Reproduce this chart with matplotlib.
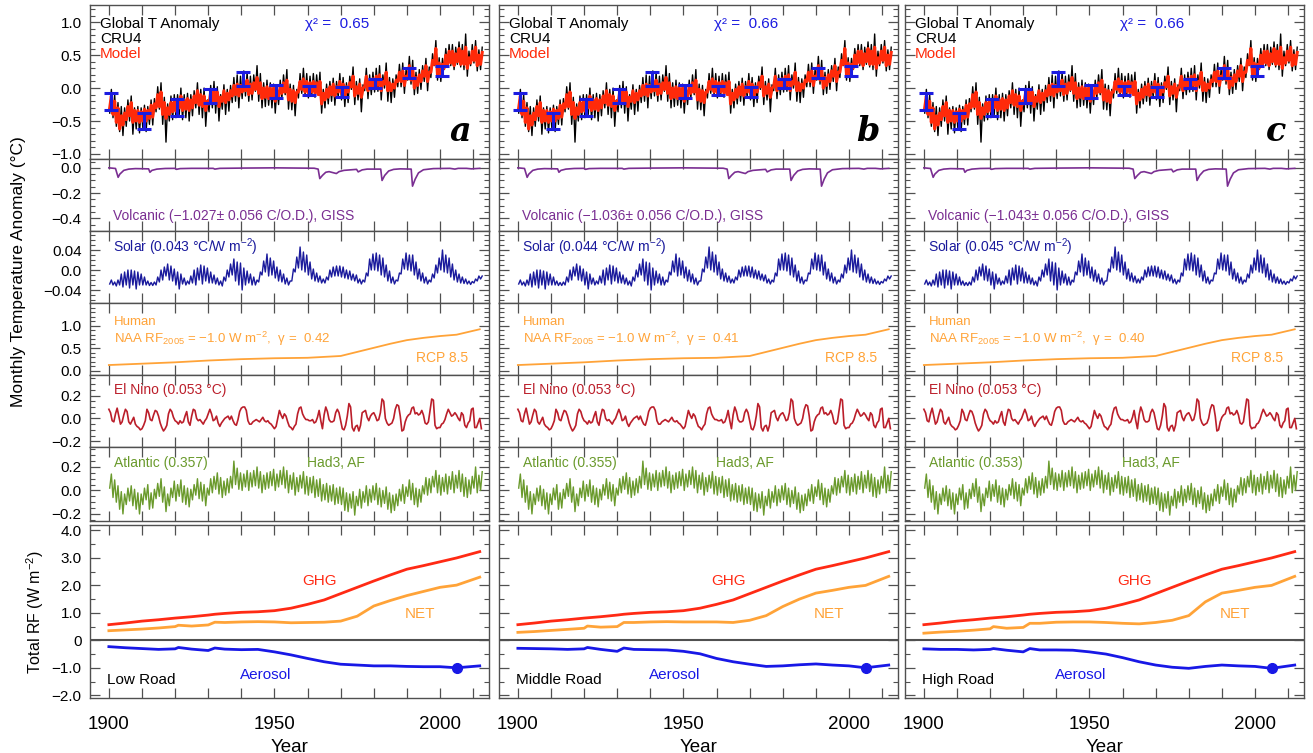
import numpy as np
import matplotlib.pyplot as plt
from matplotlib.ticker import MultipleLocator

plt.rcParams['font.family'] = ['Liberation Sans', 'DejaVu Sans']
plt.rcParams['mathtext.fontset'] = 'custom'
plt.rcParams['mathtext.rm'] = 'Liberation Sans'
plt.rcParams['mathtext.it'] = 'Liberation Sans:italic'
plt.rcParams['mathtext.default'] = 'regular'

# ---------------- data ----------------
years = np.arange(1900, 2013)

# CRU4 monthly temperature: lowest / highest month of each year
obs_lo = [-0.38, -0.45, -0.58, -0.66, -0.72, -0.58, -0.50, -0.70, -0.62, -0.68,
          -0.60, -0.66, -0.55, -0.56, -0.36, -0.32, -0.55, -0.82, -0.50, -0.48,
          -0.45, -0.40, -0.48, -0.45, -0.50, -0.42, -0.30, -0.40, -0.45, -0.58,
          -0.36, -0.30, -0.38, -0.50, -0.32, -0.40, -0.35, -0.22, -0.20, -0.30,
          -0.16, -0.12, -0.20, -0.18, -0.05, -0.20, -0.30, -0.28, -0.26, -0.30,
          -0.38, -0.25, -0.15, -0.10, -0.32, -0.33, -0.42, -0.15, -0.08, -0.12,
          -0.15, -0.12, -0.14, -0.10, -0.38, -0.30, -0.24, -0.20, -0.26, -0.14,
          -0.18, -0.28, -0.22, -0.02, -0.25, -0.18, -0.36, -0.04, -0.16, -0.10,
          -0.06, -0.05, -0.18, 0.00, -0.20, -0.22, -0.14, 0.02, 0.02, -0.08,
          0.12, 0.06, -0.10, -0.08, -0.02, 0.10, -0.04, 0.16, 0.34, 0.12,
          0.10, 0.28, 0.32, 0.34, 0.28, 0.36, 0.32, 0.28, 0.18, 0.34,
          0.38, 0.26, 0.28]
obs_hi = [-0.02, -0.10, -0.22, -0.28, -0.30, -0.18, -0.12, -0.30, -0.28, -0.30,
          -0.26, -0.28, -0.18, -0.16, 0.02, 0.08, -0.14, -0.24, -0.12, -0.10,
          -0.10, 0.00, -0.10, -0.08, -0.10, -0.04, 0.08, -0.02, 0.00, -0.18,
          0.04, 0.10, 0.02, -0.10, 0.05, -0.02, 0.04, 0.16, 0.20, 0.18,
          0.26, 0.24, 0.18, 0.20, 0.34, 0.22, 0.08, 0.12, 0.08, 0.06,
          0.00, 0.12, 0.20, 0.28, 0.06, 0.04, -0.02, 0.22, 0.30, 0.22,
          0.18, 0.22, 0.20, 0.24, -0.02, 0.06, 0.10, 0.15, 0.10, 0.22,
          0.16, 0.08, 0.18, 0.32, 0.10, 0.14, 0.05, 0.30, 0.20, 0.24,
          0.30, 0.34, 0.20, 0.38, 0.16, 0.14, 0.20, 0.36, 0.38, 0.28,
          0.48, 0.42, 0.24, 0.28, 0.34, 0.45, 0.32, 0.52, 0.72, 0.46,
          0.45, 0.60, 0.66, 0.66, 0.62, 0.70, 0.66, 0.82, 0.56, 0.66,
          0.72, 0.58, 0.62]

# model fit: low / high of each year
model_lo = [-0.30, -0.40, -0.52, -0.62, -0.56, -0.48, -0.42, -0.52, -0.50, -0.52,
            -0.50, -0.50, -0.46, -0.44, -0.30, -0.28, -0.40, -0.46, -0.40, -0.36,
            -0.35, -0.30, -0.34, -0.32, -0.34, -0.30, -0.22, -0.26, -0.28, -0.34,
            -0.24, -0.20, -0.22, -0.28, -0.20, -0.22, -0.18, -0.12, -0.10, -0.12,
            -0.06, -0.04, -0.10, -0.08, -0.02, -0.08, -0.16, -0.14, -0.16, -0.16,
            -0.20, -0.14, -0.08, -0.06, -0.18, -0.20, -0.22, -0.06, -0.02, -0.06,
            -0.08, -0.06, -0.08, -0.10, -0.24, -0.18, -0.14, -0.10, -0.12, -0.06,
            -0.08, -0.14, -0.06, 0.02, -0.12, -0.08, -0.14, 0.02, -0.04, 0.00,
            0.02, 0.04, -0.04, 0.06, -0.04, -0.04, 0.00, 0.10, 0.10, 0.04,
            0.14, 0.12, 0.00, 0.04, 0.10, 0.18, 0.10, 0.24, 0.36, 0.20,
            0.20, 0.30, 0.36, 0.38, 0.34, 0.40, 0.36, 0.36, 0.30, 0.38,
            0.42, 0.34, 0.36]
model_hi = [-0.12, -0.20, -0.30, -0.42, -0.38, -0.28, -0.22, -0.34, -0.34, -0.36,
            -0.32, -0.34, -0.26, -0.24, -0.10, -0.06, -0.22, -0.30, -0.22, -0.20,
            -0.18, -0.12, -0.18, -0.16, -0.18, -0.12, -0.04, -0.10, -0.12, -0.20,
            -0.06, -0.02, -0.06, -0.14, -0.04, -0.08, -0.04, 0.04, 0.06, 0.04,
            0.10, 0.12, 0.06, 0.08, 0.16, 0.08, 0.00, 0.02, 0.00, 0.00,
            -0.04, 0.02, 0.08, 0.12, -0.02, -0.04, -0.06, 0.10, 0.14, 0.10,
            0.08, 0.10, 0.08, 0.10, -0.08, -0.02, 0.02, 0.06, 0.02, 0.10,
            0.06, 0.02, 0.08, 0.18, 0.02, 0.06, 0.00, 0.18, 0.10, 0.14,
            0.18, 0.20, 0.10, 0.24, 0.08, 0.06, 0.12, 0.24, 0.26, 0.18,
            0.34, 0.30, 0.16, 0.20, 0.26, 0.34, 0.24, 0.42, 0.60, 0.38,
            0.36, 0.50, 0.56, 0.56, 0.52, 0.60, 0.56, 0.62, 0.46, 0.56,
            0.62, 0.50, 0.54]

# decadal means with error bars
bar_years = [1900.5, 1910.5, 1920.5, 1930.5, 1940.5, 1950.5, 1960.5, 1970.5, 1980.5, 1990.5, 2000.5]
bar_vals = [-0.20, -0.50, -0.30, -0.12, 0.14, -0.05, -0.04, -0.06, 0.065, 0.23, 0.26]
bar_err = [0.13, 0.12, 0.13, 0.11, 0.11, 0.10, 0.07, 0.08, 0.07, 0.08, 0.08]

# volcanic response
volc_t = [1900, 1902.0, 1902.8, 1903.3, 1904.5, 1906, 1908, 1912.0, 1912.4, 1913.0, 1914.5,
          1917, 1920.0, 1920.4, 1921.5, 1925, 1931.5, 1932.0, 1933.5, 1940, 1950, 1962,
          1963.2, 1963.7, 1964.5, 1965.5, 1966.5, 1968.7, 1969.5, 1971, 1974.8, 1975.3,
          1976.5, 1978, 1980, 1982.1, 1982.5, 1983.3, 1984.5, 1986, 1988, 1991.3, 1991.7,
          1992.5, 1993.5, 1995, 1998, 2003, 2004.5, 2005.5, 2008, 2009.5, 2012]
volc_v = [0.0, -0.005, -0.075, -0.05, -0.02, -0.01, -0.006, -0.008, -0.035, -0.02, -0.01,
          -0.005, -0.004, -0.012, -0.006, -0.004, -0.004, -0.01, -0.004, -0.002, 0.0, -0.003,
          -0.01, -0.085, -0.06, -0.035, -0.03, -0.045, -0.03, -0.02, -0.012, -0.032,
          -0.016, -0.01, -0.01, -0.01, -0.1, -0.06, -0.025, -0.012, -0.008, -0.01, -0.145,
          -0.09, -0.04, -0.015, -0.006, -0.004, -0.01, -0.004, -0.004, -0.008, -0.004]

# solar: low / high month of each year
solar_lo = [-0.028, -0.030, -0.032, -0.030, -0.034, -0.030, -0.036, -0.030, -0.038, -0.030,
            -0.030, -0.030, -0.031, -0.031, -0.030, -0.024, -0.020, -0.012, -0.020, -0.022,
            -0.030, -0.038, -0.028, -0.030, -0.028, -0.026, -0.030, -0.020, -0.028, -0.022,
            -0.026, -0.026, -0.028, -0.030, -0.032, -0.022, -0.014, -0.010, -0.022, -0.030,
            -0.040, -0.030, -0.026, -0.030, -0.030, -0.024, -0.010, -0.004, -0.012, -0.010,
            -0.016, -0.022, -0.024, -0.028, -0.030, -0.022, -0.004, 0.004, 0.000, -0.004,
            -0.010, -0.018, -0.022, -0.024, -0.026, -0.026, -0.020, -0.014, -0.012, -0.012,
            -0.014, -0.016, -0.018, -0.020, -0.022, -0.026, -0.028, -0.024, -0.012, 0.000,
            0.000, -0.002, -0.010, -0.014, -0.022, -0.026, -0.028, -0.022, -0.008, 0.002,
            0.000, -0.002, -0.010, -0.018, -0.022, -0.026, -0.028, -0.024, -0.016, -0.006,
            0.000, -0.004, -0.006, -0.014, -0.020, -0.024, -0.026, -0.027, -0.028, -0.029,
            -0.026, -0.022, -0.018]
solar_hi = [-0.020, -0.024, -0.020, -0.008, -0.004, 0.000, 0.000, -0.002, -0.004, -0.008,
            -0.014, -0.022, -0.025, -0.024, -0.014, 0.000, 0.006, 0.012, 0.008, 0.002,
            -0.004, -0.008, -0.016, -0.022, -0.012, 0.000, 0.004, 0.010, 0.008, 0.004,
            -0.004, -0.010, -0.016, -0.022, -0.014, 0.000, 0.012, 0.022, 0.016, 0.014,
            0.004, -0.002, -0.008, -0.014, -0.020, -0.004, 0.018, 0.032, 0.024, 0.018,
            0.006, 0.000, -0.008, -0.016, -0.022, 0.002, 0.026, 0.046, 0.036, 0.030,
            0.016, 0.002, -0.006, -0.012, -0.018, -0.014, 0.000, 0.006, 0.008, 0.008,
            0.006, 0.000, -0.002, -0.008, -0.010, -0.018, -0.020, -0.006, 0.022, 0.032,
            0.034, 0.030, 0.024, 0.010, -0.002, -0.014, -0.020, -0.006, 0.022, 0.034,
            0.030, 0.030, 0.016, 0.002, -0.006, -0.014, -0.020, -0.008, 0.010, 0.024,
            0.040, 0.030, 0.024, 0.012, 0.000, -0.008, -0.014, -0.018, -0.022, -0.023,
            -0.018, -0.012, -0.012]

# human (anthropogenic) response
hum_t = [1900, 1910, 1920, 1925, 1930, 1940, 1950, 1960, 1970, 1975, 1980, 1985, 1990, 1995, 2000, 2005, 2012]
hum_v = [0.13, 0.16, 0.19, 0.21, 0.23, 0.26, 0.28, 0.29, 0.33, 0.42, 0.51, 0.60, 0.68, 0.73, 0.77, 0.80, 0.92]

# El Nino response, twice a year (Jan, Jul)
nino = [0.08, 0.05, -0.02, -0.03, 0.04, 0.09, 0.02, -0.05, -0.03, 0.03,
        0.08, 0.06, -0.03, -0.05, -0.02, 0.01, -0.05, -0.07, -0.08, -0.10,
        -0.09, -0.06, -0.02, 0.08, 0.05, -0.01, -0.02, 0.03, 0.07, 0.06,
        0.02, -0.04, -0.08, -0.11, -0.09, -0.06, 0.04, 0.08, 0.06, 0.01,
        -0.02, -0.03, -0.05, -0.02, -0.04, -0.03, 0.02, 0.06, -0.03, -0.06,
        0.02, 0.08, 0.07, 0.00, -0.02, -0.01, -0.03, -0.05, -0.02, 0.00,
        0.04, 0.08, 0.04, -0.02, -0.01, 0.02, -0.04, -0.07, -0.04, -0.02,
        0.00, 0.01, 0.02, -0.01, 0.02, -0.02, -0.05, -0.06, -0.01, 0.06,
        0.09, 0.10, 0.10, 0.07, -0.02, -0.05, -0.05, -0.03, -0.02, -0.01,
        -0.02, -0.03, -0.01, 0.01, -0.02, -0.03, -0.02, -0.04, -0.05, -0.07,
        -0.09, -0.07, 0.00, 0.07, 0.03, 0.00, 0.04, 0.02, -0.03, -0.07,
        -0.08, -0.10, -0.07, -0.05, 0.04, 0.09, 0.10, 0.04, 0.01, -0.01,
        -0.01, -0.02, -0.02, -0.01, -0.04, -0.03, 0.01, 0.07, -0.02, -0.09,
        0.03, 0.10, 0.06, -0.01, -0.03, -0.03, -0.02, 0.05, 0.08, 0.05,
        -0.02, -0.09, -0.10, -0.06, 0.02, 0.13, 0.10, -0.08, -0.11, -0.07,
        -0.06, -0.11, -0.06, 0.05, 0.06, 0.07, 0.01, -0.02, 0.02, 0.04,
        0.05, 0.02, -0.02, -0.01, 0.05, 0.17, 0.15, 0.00, -0.04, -0.06,
        -0.05, -0.04, 0.00, 0.08, 0.12, 0.11, 0.02, -0.11, -0.10, -0.03,
        0.01, 0.03, 0.04, 0.09, 0.10, 0.04, 0.05, 0.03, 0.04, 0.07,
        0.03, -0.04, -0.05, -0.03, 0.07, 0.17, 0.16, -0.06, -0.09, -0.08,
        -0.08, -0.05, -0.04, -0.01, 0.04, 0.08, 0.05, 0.02, 0.03, 0.05,
        0.03, 0.00, -0.02, 0.05, 0.03, -0.06, -0.08, -0.04, -0.02, 0.08,
        0.09, -0.08, -0.08, -0.04, 0.00, -0.09]

# Atlantic response: low / high of each year
atl_lo = [0.02, -0.06, -0.10, -0.16, -0.20, -0.12, -0.09, -0.13, -0.16, -0.20,
          -0.12, -0.08, -0.16, -0.15, -0.07, -0.05, -0.10, -0.18, -0.13, -0.06,
          -0.09, -0.05, -0.10, -0.12, -0.14, -0.08, -0.04, -0.07, -0.09, -0.13,
          -0.04, -0.02, 0.01, -0.03, -0.06, -0.04, -0.02, 0.02, 0.05, 0.01,
          0.00, 0.03, 0.00, 0.03, 0.04, 0.02, -0.02, 0.01, 0.02, 0.04,
          0.00, 0.03, 0.05, 0.02, -0.02, 0.01, -0.04, -0.01, 0.02, -0.03,
          -0.04, -0.02, -0.06, -0.05, -0.09, -0.08, -0.10, -0.09, -0.12, -0.11,
          -0.12, -0.17, -0.18, -0.15, -0.21, -0.13, -0.15, -0.10, -0.13, -0.10,
          -0.08, -0.12, -0.14, -0.11, -0.16, -0.19, -0.17, -0.13, -0.09, -0.11,
          -0.05, -0.08, -0.12, -0.14, -0.10, -0.03, -0.04, -0.02, 0.03, -0.02,
          -0.04, -0.01, -0.03, 0.01, -0.02, 0.02, -0.01, -0.05, -0.06, -0.03,
          0.02, -0.02, 0.00]
atl_hi = [0.14, 0.09, 0.04, -0.01, -0.03, 0.02, 0.04, 0.01, -0.02, -0.03,
          0.02, 0.05, -0.02, 0.01, 0.06, 0.10, 0.03, -0.03, 0.02, 0.08,
          0.05, 0.09, 0.04, 0.02, 0.01, 0.05, 0.10, 0.07, 0.05, 0.02,
          0.10, 0.12, 0.15, 0.11, 0.08, 0.10, 0.12, 0.25, 0.19, 0.15,
          0.14, 0.17, 0.15, 0.17, 0.20, 0.16, 0.13, 0.15, 0.16, 0.18,
          0.14, 0.17, 0.20, 0.17, 0.13, 0.15, 0.11, 0.13, 0.16, 0.12,
          0.11, 0.12, 0.09, 0.10, 0.05, 0.06, 0.04, 0.05, 0.02, 0.03,
          0.02, -0.02, -0.03, -0.01, -0.05, 0.01, -0.01, 0.04, 0.01, 0.04,
          0.06, 0.02, 0.00, 0.03, -0.02, -0.04, -0.03, 0.01, 0.05, 0.03,
          0.09, 0.06, 0.02, 0.01, 0.04, 0.11, 0.10, 0.12, 0.17, 0.13,
          0.11, 0.14, 0.12, 0.16, 0.13, 0.17, 0.14, 0.11, 0.09, 0.12,
          0.20, 0.13, 0.16]

# radiative forcing (W m-2)
rf_t = [1900, 1905, 1910, 1915, 1920, 1921, 1925, 1930, 1932, 1935, 1940, 1945, 1950,
        1955, 1960, 1965, 1970, 1975, 1980, 1985, 1990, 1995, 2000, 2005, 2012]
ghg = [0.57, 0.63, 0.70, 0.75, 0.81, 0.82, 0.86, 0.92, 0.95, 0.98, 1.02, 1.04, 1.08,
       1.17, 1.31, 1.47, 1.70, 1.93, 2.16, 2.38, 2.59, 2.72, 2.86, 3.00, 3.23]
aer_low = [-0.23, -0.27, -0.30, -0.33, -0.31, -0.26, -0.32, -0.37, -0.28, -0.32, -0.34, -0.33, -0.42,
           -0.53, -0.66, -0.78, -0.87, -0.90, -0.93, -0.93, -0.95, -0.96, -0.96, -1.00, -0.93]
aer_mid = [-0.29, -0.30, -0.31, -0.33, -0.31, -0.26, -0.33, -0.40, -0.28, -0.33, -0.34, -0.35, -0.40,
           -0.49, -0.66, -0.78, -0.87, -0.95, -0.93, -0.89, -0.86, -0.90, -0.93, -1.00, -0.90]
aer_high = [-0.31, -0.33, -0.33, -0.35, -0.33, -0.30, -0.36, -0.42, -0.30, -0.35, -0.35, -0.36, -0.42,
            -0.50, -0.63, -0.78, -0.90, -0.98, -1.02, -0.95, -0.90, -0.93, -0.95, -1.02, -0.90]
net_low = [0.35, 0.38, 0.41, 0.45, 0.50, 0.55, 0.52, 0.56, 0.66, 0.65, 0.67, 0.68, 0.67,
           0.64, 0.65, 0.66, 0.70, 0.88, 1.25, 1.45, 1.63, 1.78, 1.93, 2.01, 2.30]
net_mid = [0.29, 0.32, 0.36, 0.40, 0.44, 0.52, 0.48, 0.50, 0.65, 0.65, 0.67, 0.68, 0.67,
           0.67, 0.67, 0.65, 0.73, 0.90, 1.23, 1.50, 1.72, 1.82, 1.93, 2.00, 2.33]
net_high = [0.26, 0.30, 0.33, 0.37, 0.42, 0.50, 0.44, 0.47, 0.62, 0.62, 0.66, 0.67, 0.67,
            0.65, 0.62, 0.60, 0.65, 0.73, 0.90, 1.40, 1.72, 1.82, 1.93, 2.00, 2.33]

# per-column labels
letters = ['a', 'b', 'c']
chi2 = ['0.65', '0.66', '0.66']
volc_coef = ['1.027', '1.036', '1.043']
solar_coef = ['0.043', '0.044', '0.045']
gammas = ['0.42', '0.41', '0.40']
atl_coef = ['0.357', '0.355', '0.353']
roads = ['Low Road', 'Middle Road', 'High Road']
aerosols = [aer_low, aer_mid, aer_high]
nets = [net_low, net_mid, net_high]

# ---------------- figure ----------------
W, H = 1313, 753
fig = plt.figure(figsize=(W / 100, H / 100), dpi=100)
col_left = [90, 499, 905]
col_w = 399
rows = [(5, 159), (159, 231), (231, 303), (303, 375), (375, 447), (447, 521), (525, 698)]

C_OBS, C_MOD, C_BAR = 'black', '#ff2a0a', '#1c1ce0'
C_VOL, C_SOL, C_HUM = '#7a2e92', '#1a1a9c', '#ffa338'
C_NIN, C_ATL = '#bb1e2a', '#6a9a2c'
C_GHG, C_NET, C_AER = '#ff2a14', '#ffa338', '#1818e6'
C_AX = '#505050'

def zigzag(lo, hi):
    x = np.column_stack([years + 0.25, years + 0.75]).ravel()
    y = np.column_stack([lo, hi]).ravel()
    return x, y

def style(ax, ylim, yticks, ylabels, yminor, show_y, bottom=False):
    ax.set_xlim(1894.3, 2014.8)
    ax.set_ylim(*ylim)
    ax.set_xticks(np.arange(1900, 2011, 10))
    if bottom:
        ax.set_xticklabels([str(y) if y % 50 == 0 else '' for y in range(1900, 2011, 10)])
    else:
        ax.set_xticklabels([])
    ax.set_yticks(yticks)
    ax.set_yticklabels(ylabels if show_y else [])
    ax.yaxis.set_minor_locator(MultipleLocator(yminor))
    ax.tick_params(which='both', direction='in', top=True, right=True, color=C_AX)
    ax.tick_params(which='major', length=7, width=0.9)
    ax.tick_params(which='minor', length=3.5, width=0.8)
    ax.tick_params(axis='y', labelsize=11, pad=6)
    ax.tick_params(axis='x', labelsize=13.5, pad=13)
    for s in ax.spines.values():
        s.set_color(C_AX)
        s.set_linewidth(1.0)

ox, oy = zigzag(obs_lo, obs_hi)
mx, my = zigzag(model_lo, model_hi)
sx, sy = zigzag(solar_lo, solar_hi)
axx, axy = zigzag(atl_lo, atl_hi)
nino_t = 1900 + 0.5 * np.arange(len(nino))

for c in range(3):
    L = col_left[c]
    axs = [fig.add_axes([L / W, 1 - b / H, col_w / W, (b - t) / H]) for t, b in rows]
    a_t, a_v, a_s, a_h, a_n, a_a, a_rf = axs
    show = (c == 0)
    kw = dict(fontsize=10)

    # global temperature
    a_t.plot(ox, oy, color=C_OBS, lw=1.0)
    a_t.plot(mx, my, color=C_MOD, lw=2.2)
    a_t.errorbar(bar_years, bar_vals, yerr=bar_err, fmt='none', ecolor=C_BAR,
                 elinewidth=2.2, capsize=5, capthick=2.2, zorder=5)
    style(a_t, (-1.076, 1.26), [-1.0, -0.5, 0.0, 0.5, 1.0],
          ['−1.0', '−0.5', '0.0', '0.5', '1.0'], 0.1, show)
    a_t.text(0.025, 0.85, 'Global T Anomaly', transform=a_t.transAxes, fontsize=11)
    a_t.text(0.025, 0.753, 'CRU4', transform=a_t.transAxes, fontsize=11)
    a_t.text(0.025, 0.656, 'Model', transform=a_t.transAxes, fontsize=11, color=C_MOD)
    a_t.text(0.539, 0.85, 'χ² =  ' + chi2[c], transform=a_t.transAxes, fontsize=11, color=C_BAR)
    a_t.text(0.955, 0.117, letters[c], transform=a_t.transAxes, ha='right',
             family='DejaVu Serif', style='italic', weight='bold', fontsize=24)

    # volcanic
    a_v.plot(volc_t, volc_v, color=C_VOL, lw=1.2)
    style(a_v, (-0.5, 0.07), [-0.4, -0.2, 0.0], ['−0.4', '−0.2', '0.0'], 0.05, show)
    a_v.text(0.058, 0.153, 'Volcanic (−' + volc_coef[c] + '± 0.056 C/O.D.), GISS',
             transform=a_v.transAxes, color=C_VOL, **kw)

    # solar
    a_s.plot(sx, sy, color=C_SOL, lw=1.0)
    style(a_s, (-0.066, 0.078), [-0.04, 0.0, 0.04], ['−0.04', '0.0', '0.04'], 0.01, show)
    a_s.text(0.058, 0.71, 'Solar (' + solar_coef[c] + r' °C/W m$^{-2}$)',
             transform=a_s.transAxes, color=C_SOL, **kw)

    # human
    a_h.plot(hum_t, hum_v, color=C_HUM, lw=1.3)
    style(a_h, (-0.09, 1.5), [0.0, 0.5, 1.0], ['0.0', '0.5', '1.0'], 0.1, show)
    a_h.text(0.06, 0.70, 'Human', transform=a_h.transAxes, color=C_HUM, fontsize=9.5)
    a_h.text(0.06, 0.44, r'NAA RF$_{2005}$ = −1.0 W m$^{-2}$,  γ =  ' + gammas[c],
             transform=a_h.transAxes, color=C_HUM, fontsize=9.5)
    a_h.text(0.947, 0.18, 'RCP 8.5', transform=a_h.transAxes, color=C_HUM, ha='right', **kw)

    # El Nino
    a_n.plot(nino_t, nino, color=C_NIN, lw=1.2)
    style(a_n, (-0.25, 0.38), [-0.2, 0.0, 0.2], ['−0.2', '0.0', '0.2'], 0.05, show)
    a_n.text(0.06, 0.736, 'El Nino (0.053 °C)', transform=a_n.transAxes, color=C_NIN, **kw)

    # Atlantic
    a_a.plot(axx, axy, color=C_ATL, lw=1.0)
    style(a_a, (-0.26, 0.37), [-0.2, 0.0, 0.2], ['−0.2', '0.0', '0.2'], 0.05, show)
    a_a.text(0.06, 0.73, 'Atlantic (' + atl_coef[c] + ')', transform=a_a.transAxes, color=C_ATL, **kw)
    a_a.text(0.544, 0.73, 'Had3, AF', transform=a_a.transAxes, color=C_ATL, **kw)

    # forcing
    a_rf.axhline(0, color=C_AX, lw=1.5)
    a_rf.plot(rf_t, ghg, color=C_GHG, lw=2.0)
    a_rf.plot(rf_t, nets[c], color=C_NET, lw=2.0)
    a_rf.plot(rf_t, aerosols[c], color=C_AER, lw=2.0)
    a_rf.plot([2005], [aerosols[c][rf_t.index(2005)]], 'o', color=C_AER, ms=7)
    style(a_rf, (-2.1, 4.2), [-2, -1, 0, 1, 2, 3, 4],
          ['−2.0', '−1.0', '0', '1.0', '2.0', '3.0', '4.0'], 0.5, show, bottom=True)
    a_rf.text(1963.5, 2.0, 'GHG', color=C_GHG, ha='center', fontsize=11)
    a_rf.text(1994, 0.8, 'NET', color=C_NET, ha='center', fontsize=11)
    a_rf.text(1947.5, -1.4, 'Aerosol', color=C_AER, ha='center', fontsize=11)
    a_rf.text(0.043, 0.08, roads[c], transform=a_rf.transAxes, fontsize=11)
    a_rf.set_xlabel('Year', fontsize=13.5, labelpad=4)

fig.text(0.014, 1 - 272 / H, 'Monthly Temperature Anomaly (°C)', rotation=90,
         ha='center', va='center', fontsize=12.5)
fig.text(0.027, 1 - 612 / H, r'Total RF (W m$^{-2}$)', rotation=90,
         ha='center', va='center', fontsize=11.5)

fig.savefig('out.png', dpi=100)
